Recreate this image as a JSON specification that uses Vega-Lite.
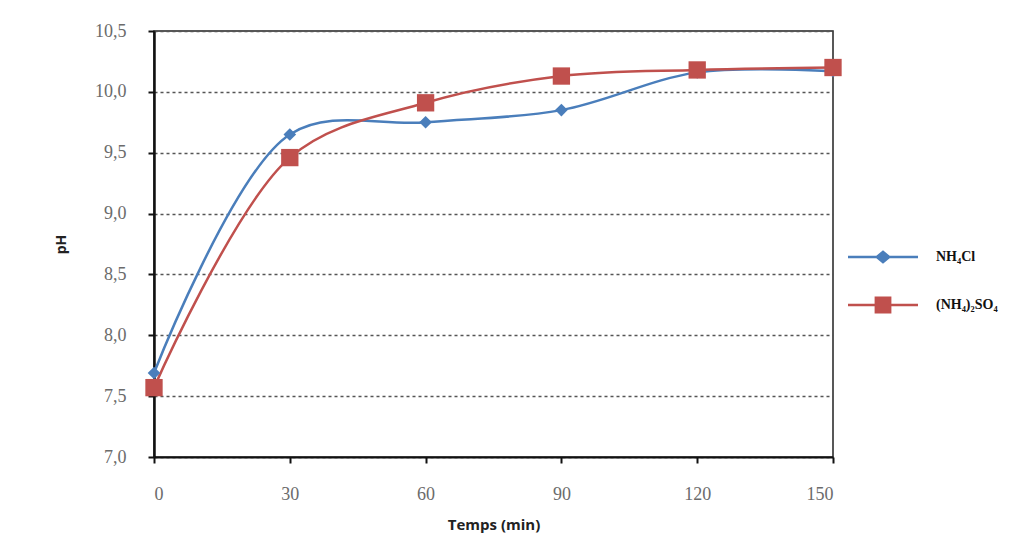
{
  "$schema": "https://vega.github.io/schema/vega-lite/v6.json",
  "width": 679,
  "height": 426,
  "autosize": {"type": "none"},
  "padding": {"left": 154, "top": 31, "right": 184, "bottom": 87},
  "background": "white",
  "config": {
    "locale": {"number": {"decimal": ",", "thousands": " ", "grouping": [3], "currency": ["", " €"]}},
    "view": {"stroke": "#222222", "strokeWidth": 1.5}
  },
  "data": {
    "values": [
      {"t": 0, "ph": 7.69, "serie": "NH₄Cl"},
      {"t": 30, "ph": 9.65, "serie": "NH₄Cl"},
      {"t": 60, "ph": 9.75, "serie": "NH₄Cl"},
      {"t": 90, "ph": 9.85, "serie": "NH₄Cl"},
      {"t": 120, "ph": 10.16, "serie": "NH₄Cl"},
      {"t": 150, "ph": 10.17, "serie": "NH₄Cl"},
      {"t": 0, "ph": 7.57, "serie": "(NH₄)₂SO₄"},
      {"t": 30, "ph": 9.46, "serie": "(NH₄)₂SO₄"},
      {"t": 60, "ph": 9.91, "serie": "(NH₄)₂SO₄"},
      {"t": 90, "ph": 10.13, "serie": "(NH₄)₂SO₄"},
      {"t": 120, "ph": 10.18, "serie": "(NH₄)₂SO₄"},
      {"t": 150, "ph": 10.2, "serie": "(NH₄)₂SO₄"}
    ]
  },
  "encoding": {
    "x": {
      "field": "t", "type": "quantitative",
      "scale": {"domain": [0, 150], "nice": false},
      "axis": {
        "title": "Temps (min)", "values": [0, 30, 60, 90, 120, 150], "grid": false,
        "labelFont": "Liberation Serif", "labelFontSize": 18, "labelColor": "#6b6b6b", "labelPadding": 22,
        "tickColor": "#111111", "tickSize": 6, "tickWidth": 2,
        "domainColor": "#111111", "domainWidth": 2,
        "titleFont": "Open Sans", "titleFontSize": 15, "titleFontWeight": "bold", "titleColor": "#222222", "titlePadding": 14
      }
    },
    "y": {
      "field": "ph", "type": "quantitative",
      "scale": {"domain": [7, 10.5], "nice": false, "zero": false},
      "axis": {
        "title": "pH", "values": [7, 7.5, 8, 8.5, 9, 9.5, 10, 10.5], "format": ".1f",
        "grid": true, "gridColor": "#555555", "gridDash": [3, 3], "gridWidth": 1.5,
        "labelFont": "Liberation Serif", "labelFontSize": 18, "labelColor": "#6b6b6b", "labelPadding": 22,
        "tickColor": "#111111", "tickSize": 6, "tickWidth": 2,
        "domainColor": "#111111", "domainWidth": 2.5,
        "titleFont": "Open Sans", "titleFontSize": 14, "titleFontWeight": "bold", "titleColor": "#222222", "titlePadding": 26
      }
    },
    "color": {
      "field": "serie", "type": "nominal",
      "scale": {"domain": ["NH₄Cl", "(NH₄)₂SO₄"], "range": ["#4A7EBB", "#C0504D"]},
      "legend": {
        "title": null, "orient": "none", "legendX": 694, "legendY": 216,
        "symbolSize": 4900, "clipHeight": 20, "rowPadding": 28, "labelOffset": 18,
        "labelFont": "Liberation Serif", "labelFontSize": 14, "labelFontWeight": "bold", "labelColor": "#111111",
        "labelLimit": 200,
        "encode": {
          "symbols": {
            "update": {
              "shape": {"signal": "datum.value === 'NH₄Cl' ? 'M-1,-0.035L-0.19,-0.035L0,-0.19L0.19,-0.035L1,-0.035L1,0.035L0.19,0.035L0,0.19L-0.19,0.035L-1,0.035Z' : 'M-1,-0.035L-0.24,-0.035L-0.24,-0.24L0.24,-0.24L0.24,-0.035L1,-0.035L1,0.035L0.24,0.035L0.24,0.24L-0.24,0.24L-0.24,0.035L-1,0.035Z'"},
              "size": {"value": 4900},
              "fill": {"scale": "color", "field": "value"},
              "stroke": {"value": null},
              "strokeWidth": {"value": 0},
              "opacity": {"value": 1},
              "fillOpacity": {"value": 1}
            }
          }
        }
      }
    }
  },
  "layer": [
    {"mark": {"type": "line", "interpolate": "catmull-rom", "strokeWidth": 2.5}},
    {
      "transform": [{"filter": "datum.serie === 'NH₄Cl'"}],
      "mark": {"type": "point", "filled": true, "opacity": 1, "shape": "diamond", "size": 160}
    },
    {
      "transform": [{"filter": "datum.serie !== 'NH₄Cl'"}],
      "mark": {"type": "point", "filled": true, "opacity": 1, "shape": "square", "size": 300}
    }
  ]
}
